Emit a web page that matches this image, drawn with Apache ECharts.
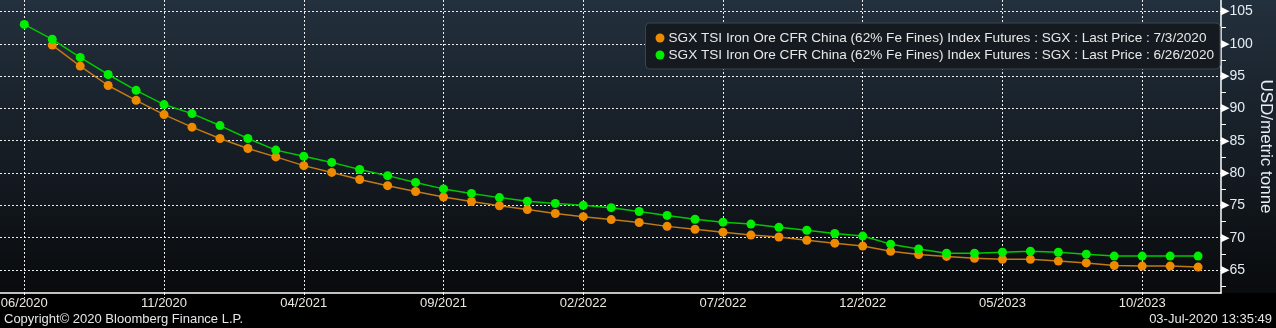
<!DOCTYPE html>
<html>
<head>
<meta charset="utf-8">
<script src="https://cdn.jsdelivr.net/npm/echarts@6/dist/echarts.min.js"></script>
<style>
html,body{margin:0;padding:0;background:#000;}
#chart{width:1276px;height:328px;}
</style>
</head>
<body>
<div id="chart"></div>
<script>
// Month categories (index 0 = 06/2020 ... 42 = 12/2023)
const months = [
  '06/2020','07/2020','08/2020','09/2020','10/2020','11/2020','12/2020',
  '01/2021','02/2021','03/2021','04/2021','05/2021','06/2021','07/2021','08/2021','09/2021','10/2021','11/2021','12/2021',
  '01/2022','02/2022','03/2022','04/2022','05/2022','06/2022','07/2022','08/2022','09/2022','10/2022','11/2022','12/2022',
  '01/2023','02/2023','03/2023','04/2023','05/2023','06/2023','07/2023','08/2023','09/2023','10/2023','11/2023','12/2023'
];
const xTickIndices = [0, 5, 10, 15, 20, 25, 30, 35, 40];
const yTickLabels = [65, 70, 75, 80, 85, 90, 95, 100, 105];
const yMinorTicks = [62.5, 67.5, 72.5, 77.5, 82.5, 87.5, 92.5, 97.5, 102.5];

const seriesNameJul3 = 'SGX TSI Iron Ore CFR China (62% Fe Fines) Index Futures : SGX : Last Price : 7/3/2020';
const seriesNameJun26 = 'SGX TSI Iron Ore CFR China (62% Fe Fines) Index Futures : SGX : Last Price : 6/26/2020';

// 7/3/2020 curve (starts 07/2020)
const priceJul3 = [
  null, 99.8, 96.55, 93.55, 91.25, 89.05, 87.1,
  85.35, 83.8, 82.5, 81.15, 80.1, 79.0, 78.05, 77.15, 76.3, 75.6, 74.95, 74.35,
  73.75, 73.25, 72.8, 72.35, 71.75, 71.3, 70.85, 70.4, 70.1, 69.6, 69.15, 68.7,
  67.9, 67.4, 67.1, 66.8, 66.65, 66.65, 66.4, 66.1, 65.7, 65.6, 65.6, 65.45
];
// 6/26/2020 curve (starts 06/2020)
const priceJun26 = [
  103.0, 100.7, 97.9, 95.25, 92.8, 90.6, 89.2,
  87.35, 85.35, 83.55, 82.6, 81.65, 80.55, 79.6, 78.55, 77.55, 76.85, 76.2, 75.65,
  75.3, 75.0, 74.65, 74.05, 73.45, 72.85, 72.4, 72.1, 71.6, 71.15, 70.65, 70.25,
  69.0, 68.25, 67.6, 67.6, 67.75, 67.9, 67.75, 67.45, 67.15, 67.15, 67.15, 67.15
];

const toPairs = arr => arr.map((v, i) => (v == null ? null : [i, v])).filter(p => p !== null);

const chart = echarts.init(document.getElementById('chart'), null, {renderer: 'canvas'});
const FONT = '"Liberation Sans", Arial, sans-serif';
const gridColor = 'rgba(255,255,255,0.92)';

chart.setOption({
  backgroundColor: '#000000',
  animation: false,
  graphic: [{
    type: 'rect',
    left: 0, top: 0, z: -10,
    shape: {width: 1276, height: 293},
    style: {
      fill: new echarts.graphic.LinearGradient(0, 0, 0, 1, [
        {offset: 0, color: '#23303d'},
        {offset: 1, color: '#090b0d'}
      ])
    },
    silent: true
  }, {
    type: 'text', left: 4, top: 313,
    style: {text: 'Copyright\u00a9 2020 Bloomberg Finance L.P.', fill: '#e6e6e6', font: '13px ' + FONT}
  }, {
    type: 'text', right: 4, top: 313,
    style: {text: '03-Jul-2020 13:35:49', fill: '#e6e6e6', font: '13px ' + FONT}
  }],
  grid: {left: 0, right: 55, top: 0, bottom: 35, containLabel: false, outerBoundsMode: 'none'},
  legend: {
    orient: 'vertical',
    right: 56, top: 23,
    data: [seriesNameJul3, seriesNameJun26],
    icon: 'circle',
    itemWidth: 9, itemHeight: 9, itemGap: 3,
    backgroundColor: '#141a1f',
    borderColor: '#3c444c', borderWidth: 1, borderRadius: 4,
    padding: [8, 6, 7, 10],
    textStyle: {color: '#e8e8e8', fontSize: 13.6, fontFamily: FONT, padding: [0, 0, 0, -1]}
  },
  xAxis: {
    type: 'value',
    min: -0.87, max: 42.82,
    axisLine: {show: true, onZero: false, lineStyle: {color: '#ffffff', width: 1.5}},
    axisTick: {show: true, customValues: xTickIndices, length: 5, lineStyle: {color: gridColor, type: [2, 2]}},
    axisLabel: {
      customValues: xTickIndices,
      formatter: v => months[Math.round(v)] || '',
      color: '#ece8e0', fontSize: 13, fontFamily: FONT, margin: 4
    },
    splitLine: {show: true, lineStyle: {color: gridColor, type: [2, 2], width: 1}}
  },
  yAxis: [{
    type: 'value',
    position: 'right',
    min: 61.44, max: 106.78,
    name: 'USD/metric tonne',
    nameLocation: 'middle',
    nameRotate: -90,
    nameGap: 36,
    nameMoveOverlap: false,
    nameTextStyle: {color: '#e8eef4', fontSize: 17, fontFamily: FONT},
    axisLine: {show: true, onZero: false, lineStyle: {color: '#ffffff', width: 1.5}},
    axisTick: {show: false, customValues: yTickLabels},
    axisLabel: {
      customValues: yTickLabels,
      formatter: v => '{t|\u25B6}{v|' + v + '}',
      margin: 0,
      rich: {
        t: {color: '#ffffff', fontSize: 11, fontFamily: '"DejaVu Sans", sans-serif'},
        v: {color: '#e4ecf4', fontSize: 14, fontFamily: FONT}
      }
    },
    splitLine: {show: true, lineStyle: {color: gridColor, type: [2, 2], width: 1}}
  }, {
    type: 'value',
    position: 'right',
    min: 61.44, max: 106.78,
    axisLine: {show: false, onZero: false},
    axisTick: {show: true, customValues: yMinorTicks, length: 5, lineStyle: {color: '#ffffff', width: 1}},
    axisLabel: {show: false},
    splitLine: {show: false}
  }],
  series: [{
    name: seriesNameJul3,
    type: 'line',
    data: toPairs(priceJul3),
    symbol: 'circle', symbolSize: 9,
    itemStyle: {color: '#ee8a00'},
    lineStyle: {color: '#c27a12', width: 1.5},
    z: 2
  }, {
    name: seriesNameJun26,
    type: 'line',
    data: toPairs(priceJun26),
    symbol: 'circle', symbolSize: 9,
    itemStyle: {color: '#00ee00'},
    lineStyle: {color: '#00c800', width: 1.5},
    z: 3
  }]
});
</script>
</body>
</html>
